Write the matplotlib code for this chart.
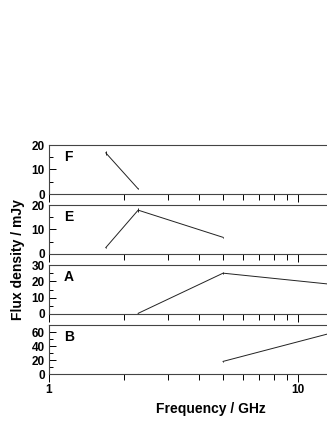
import numpy as np
import matplotlib
matplotlib.use("Agg")
import matplotlib.pyplot as plt
from matplotlib.ticker import FixedLocator, NullFormatter

plt.rcParams['font.family'] = ['Liberation Sans', 'DejaVu Sans']
plt.rcParams['font.weight'] = 'bold'

# source spectra (GHz, mJy)
labels = ['F', 'E', 'A', 'B']
freqs = {
    'F': [1.69, 2.28],
    'E': [1.69, 2.28, 5.0],
    'A': [2.28, 5.0, 15.0],
    'B': [5.0, 15.0],
}
flux = {
    'F': [16.8, 2.1],
    'E': [2.6, 17.9, 6.8],
    'A': [0.4, 25.0, 17.5],
    'B': [18.0, 62.5],
}
errs = {
    'F': [0.8, 0.2],
    'E': [0.2, 0.8, 0.3],
    'A': [0.1, 0.8, 0.3],
    'B': [0.5, 1.0],
}
ylims = {'F': 20, 'E': 20, 'A': 30, 'B': 70}
ymajor = {'F': [0, 10, 20], 'E': [0, 10, 20], 'A': [0, 10, 20, 30], 'B': [0, 20, 40, 60]}
yminor = {'F': [5, 15], 'E': [5, 15], 'A': [5, 15, 25], 'B': [10, 30, 50]}

W, H = 327, 423
fig = plt.figure(figsize=(W / 100, H / 100), dpi=100)

left = 49
right = 373          # axes run past the figure edge (xlim up to 20 GHz)
top = 145
ph = 49
gap = 11

axes = []
for i, lbl in enumerate(labels):
    t = top + i * (ph + gap)
    ax = fig.add_axes([left / W, 1 - (t + ph) / H, (right - left) / W, ph / H])
    ax.errorbar(freqs[lbl], flux[lbl], yerr=errs[lbl], color='#222222', lw=0.7,
                elinewidth=0.7, capsize=0)
    ax.set_xscale('log')
    ax.set_xlim(1, 20)
    ax.set_ylim(0, ylims[lbl])
    ax.yaxis.set_major_locator(FixedLocator(ymajor[lbl]))
    ax.yaxis.set_minor_locator(FixedLocator(yminor[lbl]))
    ax.xaxis.set_major_locator(FixedLocator([1, 10]))
    ax.xaxis.set_minor_locator(FixedLocator([2, 3, 4, 5, 6, 7, 8, 9, 20]))
    ax.xaxis.set_minor_formatter(NullFormatter())
    ax.tick_params(axis='y', which='major', direction='in', length=5, width=0.7,
                   labelsize=8.5, pad=3)
    ax.tick_params(axis='y', which='minor', direction='in', length=3, width=0.7)
    ax.tick_params(axis='x', which='major', direction='out', length=6, width=0.7,
                   labelsize=8.5, pad=1.5)
    ax.tick_params(axis='x', which='minor', direction='out', length=4, width=0.7)
    if i < len(labels) - 1:
        ax.tick_params(axis='x', labelbottom=False)
    else:
        ax.set_xticklabels(['1', '10'])
    for s in ax.spines.values():
        s.set_linewidth(0.8)
        s.set_color('#444444')
    ax.annotate(lbl, xy=(0, 1), xycoords='axes fraction', xytext=(15, -12),
                textcoords='offset pixels', fontsize=10, fontweight='bold',
                va='center', ha='left')
    for t_ in ax.get_yticklabels() + ax.get_xticklabels():
        t_.set_fontweight('bold')
    axes.append(ax)

axes[-1].set_xlabel('Frequency / GHz', fontsize=10, fontweight='bold', labelpad=4)
fig.text(18 / W, 1 - 260 / H, 'Flux density / mJy', rotation=90, fontsize=10,
         fontweight='bold', ha='center', va='center')

fig.savefig('out.png', dpi=100)
